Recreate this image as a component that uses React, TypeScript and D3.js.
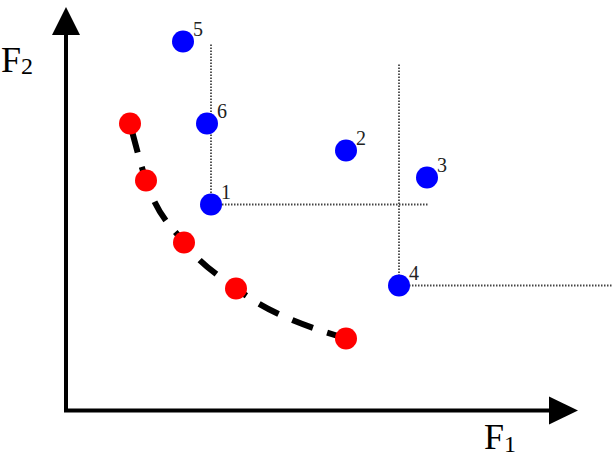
import React, { useRef, useEffect } from "react";
import * as d3 from "d3";

// pareto front (red) and dominated solutions (blue), in objective units
const frontF1 = [1.28, 1.6, 2.36, 3.4, 5.6];
const frontF2 = [5.74, 4.6, 3.36, 2.44, 1.44];

const pointIds = ["1", "2", "3", "4", "5", "6"];
const pointF1 = [2.9, 5.6, 7.22, 6.66, 2.34, 2.82];
const pointF2 = [4.12, 5.2, 4.66, 2.5, 7.38, 5.74];

// dotted guides drawn from points 1 and 4: [id, top of vertical, end of horizontal]
const guideIds = ["1", "4"];
const guideTop = [7.32, 6.92];
const guideRight = [7.24, 10.94];

const App = () => {
  const d3Container = useRef(null);

  useEffect(() => {
    if (d3Container.current) {
      const svg = d3.select(d3Container.current);
      svg.selectAll("*").remove();

      const x = d3.scaleLinear().domain([0, 10]).range([66, 566]);
      const y = d3.scaleLinear().domain([0, 8]).range([410.5, 10.5]);

      const font = "'Liberation Serif', 'Times New Roman', serif";

      // axes with arrow heads
      svg
        .append("path")
        .attr("d", "M66,34 L66,410.5 L550,410.5")
        .attr("fill", "none")
        .attr("stroke", "#000")
        .attr("stroke-width", 4)
        .attr("stroke-linejoin", "miter");
      svg
        .append("path")
        .attr("d", "M66,7 L80,35 L52,35 Z")
        .attr("fill", "#000");
      svg
        .append("path")
        .attr("d", "M578,410.5 L549,396.5 L549,424.5 Z")
        .attr("fill", "#000");

      // axis titles
      const f2 = svg
        .append("text")
        .attr("x", 1)
        .attr("y", 72)
        .attr("font-family", font)
        .attr("font-size", 36)
        .attr("fill", "#000");
      f2.append("tspan").text("F");
      f2.append("tspan").attr("font-size", 24).attr("dy", 2).text("2");

      const f1 = svg
        .append("text")
        .attr("x", 484)
        .attr("y", 449)
        .attr("font-family", font)
        .attr("font-size", 36)
        .attr("fill", "#000");
      f1.append("tspan").text("F");
      f1.append("tspan").attr("font-size", 24).attr("dy", 3).text("1");

      // dotted guides
      guideIds.forEach((id, i) => {
        const k = pointIds.indexOf(id);
        const px = x(pointF1[k]);
        const py = y(pointF2[k]);
        svg
          .append("path")
          .attr(
            "d",
            `M${px},${y(guideTop[i])} L${px},${py} L${x(guideRight[i])},${py}`
          )
          .attr("fill", "none")
          .attr("stroke", "#444")
          .attr("stroke-width", 1.8)
          .attr("stroke-dasharray", "1.5,1.5");
      });

      // dashed front curve
      const front = frontF1.map((d, i) => [d, frontF2[i]]);
      const line = d3
        .line()
        .x((d) => x(d[0]))
        .y((d) => y(d[1]))
        .curve(d3.curveMonotoneX);
      svg
        .append("path")
        .attr("d", line(front))
        .attr("fill", "none")
        .attr("stroke", "#000")
        .attr("stroke-width", 6)
        .attr("stroke-dasharray", "22,15")
        .attr("stroke-dashoffset", -8);

      svg
        .selectAll("circle.front")
        .data(front)
        .enter()
        .append("circle")
        .attr("class", "front")
        .attr("cx", (d) => x(d[0]))
        .attr("cy", (d) => y(d[1]))
        .attr("r", 11)
        .attr("fill", "#ff0000");

      // numbered points
      const pts = pointIds.map((id, i) => ({ id, f1: pointF1[i], f2: pointF2[i] }));
      svg
        .selectAll("circle.pt")
        .data(pts)
        .enter()
        .append("circle")
        .attr("class", "pt")
        .attr("cx", (d) => x(d.f1))
        .attr("cy", (d) => y(d.f2))
        .attr("r", 11)
        .attr("fill", "#0000ff");
      svg
        .selectAll("text.pt")
        .data(pts)
        .enter()
        .append("text")
        .attr("class", "pt")
        .attr("x", (d) => x(d.f1) + 10)
        .attr("y", (d) => y(d.f2) - 6)
        .attr("font-family", font)
        .attr("font-size", 20)
        .attr("fill", "#222")
        .text((d) => d.id);
    }
  }, []);

  return (
    <svg
      ref={d3Container}
      width={615}
      height={468}
      style={{ position: "absolute", left: 0, top: 0, background: "#fff" }}
    />
  );
};

export default App;
